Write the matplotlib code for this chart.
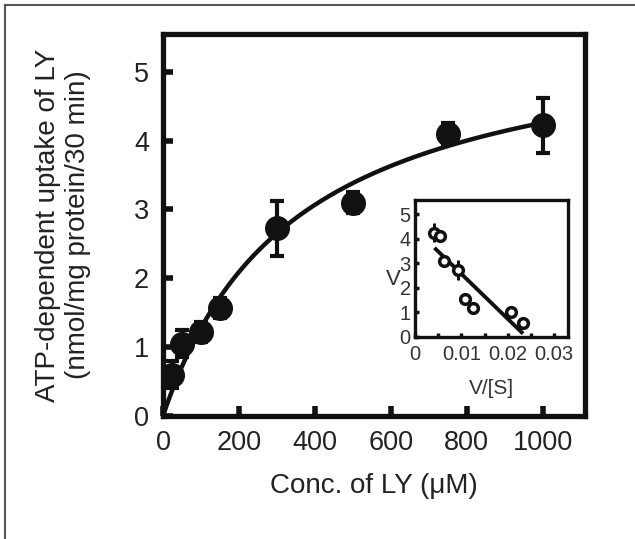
import numpy as np
import matplotlib
matplotlib.use('Agg')
import matplotlib.pyplot as plt
from matplotlib.lines import Line2D

plt.rcParams['font.family'] = ['Liberation Sans', 'DejaVu Sans']

# main plot data
conc = [25, 50, 100, 150, 300, 500, 750, 1000]
uptake = [0.6, 1.05, 1.22, 1.57, 2.73, 3.1, 4.1, 4.22]
uptake_err = [0.2, 0.2, 0.15, 0.15, 0.4, 0.15, 0.15, 0.4]

# Michaelis-Menten fit parameters
fit_km = 350.0
fit_vmax = 5.75

# inset (Eadie-Hofstee) data
inset_x = [0.0042, 0.0055, 0.0062, 0.0093, 0.0108, 0.0125, 0.0208, 0.0233]
inset_v = [4.25, 4.1, 3.1, 2.72, 1.55, 1.2, 1.0, 0.55]
inset_err = [0.4, 0.0, 0.25, 0.4, 0.0, 0.0, 0.15, 0.0]
inset_km = 183.0
inset_vmax = 4.4

fig = plt.figure(figsize=(6.35, 5.39), dpi=100)

# outer frame (top and left edges only)
fig.add_artist(Line2D([0.008, 1.0], [0.991, 0.991], color='#555555', lw=1.5))
fig.add_artist(Line2D([0.008, 0.008], [0.0, 0.991], color='#555555', lw=1.5))

ax = fig.add_axes([0.2567, 0.2283, 0.6646, 0.7087])
s = np.linspace(0, 1000, 300)
ax.plot(s, fit_vmax * s / (fit_km + s), color='#111111', lw=3.2, zorder=2)
ax.errorbar(conc, uptake, yerr=uptake_err, fmt='o', color='#111111',
            markersize=17, elinewidth=3, capsize=5, capthick=3, zorder=3)

ax.set_xlim(0, 1112)
ax.set_ylim(0, 5.55)
ax.set_xticks([0, 200, 400, 600, 800, 1000])
ax.set_yticks([0, 1, 2, 3, 4, 5])
ax.tick_params(direction='in', length=7, width=4, labelsize=19.5, pad=10,
               color='#111111', labelcolor='#222222')
for sp in ax.spines.values():
    sp.set_linewidth(3.8)
    sp.set_color('#111111')
ax.set_xlabel('Conc. of LY (μM)', fontsize=20, color='#222222', labelpad=12)
ax.set_ylabel('ATP-dependent uptake of LY\n(nmol/mg protein/30 min)',
              fontsize=20, color='#222222', labelpad=31, linespacing=1.2)

# inset
ins = fig.add_axes([0.6535, 0.3748, 0.241, 0.2542])
xs = np.linspace(0.0045, 0.023, 50)
ins.plot(xs, inset_vmax - inset_km * xs, color='#111111', lw=2.8, zorder=2)
ins.errorbar(inset_x, inset_v, yerr=inset_err, fmt='o', color='#111111',
             markerfacecolor='white', markeredgewidth=2.5, markersize=7,
             elinewidth=2.2, capsize=0, zorder=3)
ins.set_xlim(0, 0.033)
ins.set_ylim(0, 5.58)
ins.set_xticks([0, 0.005, 0.01, 0.015, 0.02, 0.025, 0.03])
ins.set_xticklabels(['0', '', '0.01', '', '0.02', '', '0.03'])
ins.set_yticks([0, 1, 2, 3, 4, 5])
ins.tick_params(direction='in', length=3, width=2.5, labelsize=14.5, pad=3,
                color='#111111', labelcolor='#333333')
ins.tick_params(axis='x', pad=6)
for sp in ins.spines.values():
    sp.set_linewidth(2.4)
    sp.set_color('#111111')
ins.set_xlabel('V/[S]', fontsize=15, color='#333333')
ins.xaxis.set_label_coords(0.5, -0.31)
ins.set_ylabel('V', fontsize=16, color='#333333', rotation=0,
               ha='center', va='center')
ins.yaxis.set_label_coords(-0.14, 0.42)

fig.savefig('out.png', dpi=100)
